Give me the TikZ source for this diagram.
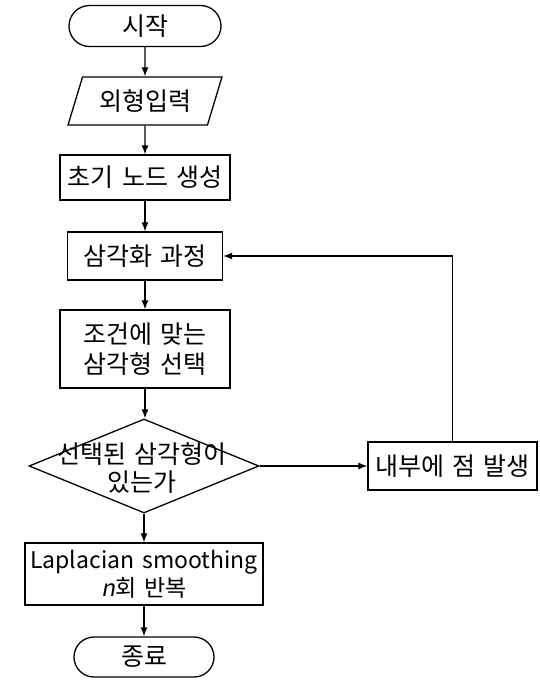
\documentclass[tikz,border=0pt]{standalone}
\usepackage{fontspec}
\setmainfont[WordSpace=1.5]{Noto Sans CJK KR}
\newfontfamily\slantfont[FakeSlant=0.18,WordSpace=1.5]{Noto Sans CJK KR}
\usetikzlibrary{shapes.geometric,shapes.misc,arrows.meta}
\begin{document}
\begin{tikzpicture}[x=1pt,y=-1pt,
  base/.style={draw, line width=1.3pt, inner sep=0pt,
    font=\fontsize{25}{30}\selectfont, align=center},
  procbox/.style={base, rectangle},
  term/.style={base, rounded rectangle},
  iobox/.style={base, trapezium, trapezium left angle=65, trapezium right angle=115, trapezium stretches=true},
  decision/.style={base, diamond},
  arr/.style={line width=1.3pt, -{Latex[length=9pt,width=7pt]}},
  lbl/.style={font=\fontsize{25}{28}\selectfont, align=center, inner sep=0pt}
]
\useasboundingbox (0,0) rectangle (540,680);
\node[term, minimum width=152pt, minimum height=41pt] (start) at (145,26) {시작};
\node[iobox, minimum width=154pt, minimum height=48pt] (input) at (145,101) {외형입력};
\node[procbox, minimum width=170pt, minimum height=45pt] (init) at (145,177.5) {초기 노드 생성};
\node[procbox, minimum width=155pt, minimum height=48pt] (tri) at (145,256) {삼각화 과정};
\node[procbox, minimum width=170pt, minimum height=78pt] (sel) at (145,349) {조건에 맞는\\삼각형 선택};
\node[decision, minimum width=230pt, minimum height=94pt] (dec) at (144,466) {};
\node[lbl] (declbl) at (142,468) {선택된 삼각형이\\있는가};
\node[procbox, minimum width=169pt, minimum height=48pt] (gen) at (452.5,466) {내부에 점 발생};
\node[procbox, minimum width=238pt, minimum height=62pt, font=\fontsize{23}{28}\selectfont] (lap) at (144,574) {Laplacian smoothing\\{\slantfont n}회 반복};
\node[term, minimum width=140pt, minimum height=40pt] (stop) at (144,657) {종료};

\draw[arr] (start) -- (input);
\draw[arr] (input) -- (init);
\draw[arr] (init) -- (tri);
\draw[arr] (tri) -- (sel);
\draw[arr] (sel.south) -- (sel.south |- dec.north);
\draw[arr] (dec.south) -- (lap.north);
\draw[arr] (lap) -- (stop);
\draw[arr] (dec.east) -- (gen.west);
\draw[arr] (gen.north) |- (tri.east);
\end{tikzpicture}
\end{document}
